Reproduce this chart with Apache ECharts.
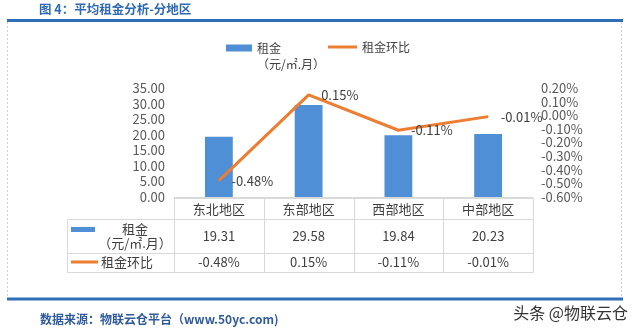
<!DOCTYPE html>
<html>
<head>
<meta charset="utf-8">
<script src="https://cdn.jsdelivr.net/npm/echarts@6/dist/echarts.min.js"></script>
<style>
html, body { margin: 0; padding: 0; background: #fff; }
#c { width: 640px; height: 330px; }
</style>
</head>
<body>
<div id="c"></div>
<script>
// Average rent by region
const regions = ['东北地区', '东部地区', '西部地区', '中部地区'];
const rent = [19.31, 29.58, 19.84, 20.23];          // 元/㎡.月
const rentChange = [-0.48, 0.15, -0.11, -0.01];     // %, month on month
const rentAxis = { min: 0, max: 35, interval: 5 };
const changeAxis = { min: -0.6, max: 0.2, interval: 0.1 };

const rentName = '租金';
const rentUnit = '（元/㎡.月）';
const changeName = '租金环比';

const FONT = '"Noto Sans CJK SC", "Noto Sans", sans-serif';
const BLUE = '#4f8fd5';
const ORANGE = '#ed7d31';
const TEXT = '#404040';
const GRID_LINE = '#d9d9d9';

const chart = echarts.init(document.getElementById('c'), null, { renderer: 'canvas' });

const G = { left: 174, right: 107, top: 88, bottom: 133 };

chart.setOption({
  animation: false,
  backgroundColor: '#fff',
  textStyle: { fontFamily: FONT },
  grid: { left: G.left, right: G.right, top: G.top, bottom: G.bottom, containLabel: false },
  legend: [
    {
      data: [{ name: rentName, icon: 'rect' }],
      left: 226, top: 42, padding: 0,
      itemWidth: 26, itemHeight: 7, itemGap: 5,
      textStyle: { fontFamily: FONT, fontSize: 12, color: TEXT }
    },
    {
      data: [{ name: changeName, icon: 'rect' }],
      left: 328, top: 41, padding: 0,
      itemWidth: 29, itemHeight: 3, itemGap: 5,
      textStyle: { fontFamily: FONT, fontSize: 12, color: TEXT }
    }
  ],
  xAxis: {
    type: 'category',
    data: regions,
    axisLine: { show: true, lineStyle: { color: GRID_LINE } },
    axisTick: { show: false },
    axisLabel: { show: false },
    splitLine: { show: false }
  },
  yAxis: [
    {
      type: 'value', min: rentAxis.min, max: rentAxis.max, interval: rentAxis.interval,
      axisLine: { show: false }, axisTick: { show: false }, splitLine: { show: false },
      axisLabel: { color: '#595959', fontSize: 13, margin: 9, formatter: v => v.toFixed(2) }
    },
    {
      type: 'value', min: changeAxis.min, max: changeAxis.max, interval: changeAxis.interval,
      axisLine: { show: false }, axisTick: { show: false }, splitLine: { show: false },
      axisLabel: { color: '#595959', fontSize: 13, margin: 8,
        formatter: v => (Math.abs(v) < 1e-9 ? 0 : v).toFixed(2) + '%' }
    }
  ],
  series: [
    {
      name: rentName, type: 'bar', data: rent, barWidth: '31%',
      itemStyle: { color: BLUE }
    },
    {
      name: changeName, type: 'line', yAxisIndex: 1, data: rentChange,
      symbol: 'circle', symbolSize: 1, showSymbol: true, smooth: false,
      lineStyle: { color: ORANGE, width: 3 },
      itemStyle: { color: ORANGE },
      label: {
        show: true, position: 'right', distance: 12,
        color: TEXT, fontSize: 13, fontFamily: FONT,
        formatter: p => p.value.toFixed(2) + '%'
      }
    }
  ]
});

// Data table under the plot, aligned to the category axis
function buildGraphics() {
  const centers = regions.map(r => chart.convertToPixel({ xAxisIndex: 0 }, r));
  const step = centers[1] - centers[0];
  const colEdges = [centers[0] - step / 2].concat(centers.map(c => c + step / 2));
  const tableLeft = 67;
  const yHeadTop = 198.5, yRow1 = 219.5, yRow2 = 253.5, yBottom = 272.5;
  const g = [];
  const line = (x1, y1, x2, y2, stroke, w, dash) => g.push({
    type: 'line', silent: true,
    shape: { x1, y1, x2, y2 },
    style: { stroke, lineWidth: w || 1, lineDash: dash || null }
  });
  const text = (t, x, y, opt) => g.push({
    type: 'text', silent: true, x, y,
    style: Object.assign({
      text: t, fill: TEXT, font: '13px ' + FONT, align: 'center', verticalAlign: 'middle'
    }, opt || {})
  });

  // unit line under the first legend entry
  text(rentUnit, 257, 64, { align: 'left', font: '12px ' + FONT });

  // frame
  line(7, 20.5, 623, 20.5, '#2e6fb8', 3);
  line(7, 299, 623, 299, '#2e6fb8', 3);
  line(7.5, 22, 7.5, 297, '#cfcfcf', 1, [2, 2]);
  line(621.5, 22, 621.5, 297, '#cfcfcf', 1, [2, 2]);

  // table grid
  const L = Math.round(colEdges[0]) + 0.5, R = Math.round(colEdges[colEdges.length - 1]) + 0.5;
  line(L, yHeadTop, R, yHeadTop, GRID_LINE);
  [yRow1, yRow2, yBottom].forEach(y => line(tableLeft + 0.5, y, R, y, GRID_LINE));
  line(tableLeft + 0.5, yRow1, tableLeft + 0.5, yBottom, GRID_LINE);
  colEdges.forEach(x => line(Math.round(x) + 0.5, yHeadTop, Math.round(x) + 0.5, yBottom, GRID_LINE));

  // header and cells
  regions.forEach((r, i) => {
    text(r, centers[i], 209);
    text(rent[i].toFixed(2), centers[i], 236);
    text(rentChange[i].toFixed(2) + '%', centers[i], 262.5);
  });

  // row headers with legend keys
  g.push({ type: 'rect', silent: true, shape: { x: 71, y: 227, width: 24, height: 5 }, style: { fill: BLUE } });
  text(rentName, 135, 229);
  text(rentUnit, 135, 243);
  line(71, 262, 98, 262, ORANGE, 3);
  text(changeName, 127, 262.5);

  // title and source
  text('图 4：平均租金分析-分地区', 39, 9, { align: 'left', font: 'bold 12.5px ' + FONT, fill: '#2e6ab4' });
  text('数据来源：物联云仓平台（www.50yc.com)', 40, 319, { align: 'left', font: 'bold 12px ' + FONT, fill: '#2f5a9e' });
  text('头条 @物联云仓', 628, 313, {
    align: 'right', font: '16px ' + FONT, fill: '#333333',
    stroke: '#ffffff', lineWidth: 2
  });
  return g;
}

chart.setOption({ graphic: buildGraphics() });
</script>
</body>
</html>
